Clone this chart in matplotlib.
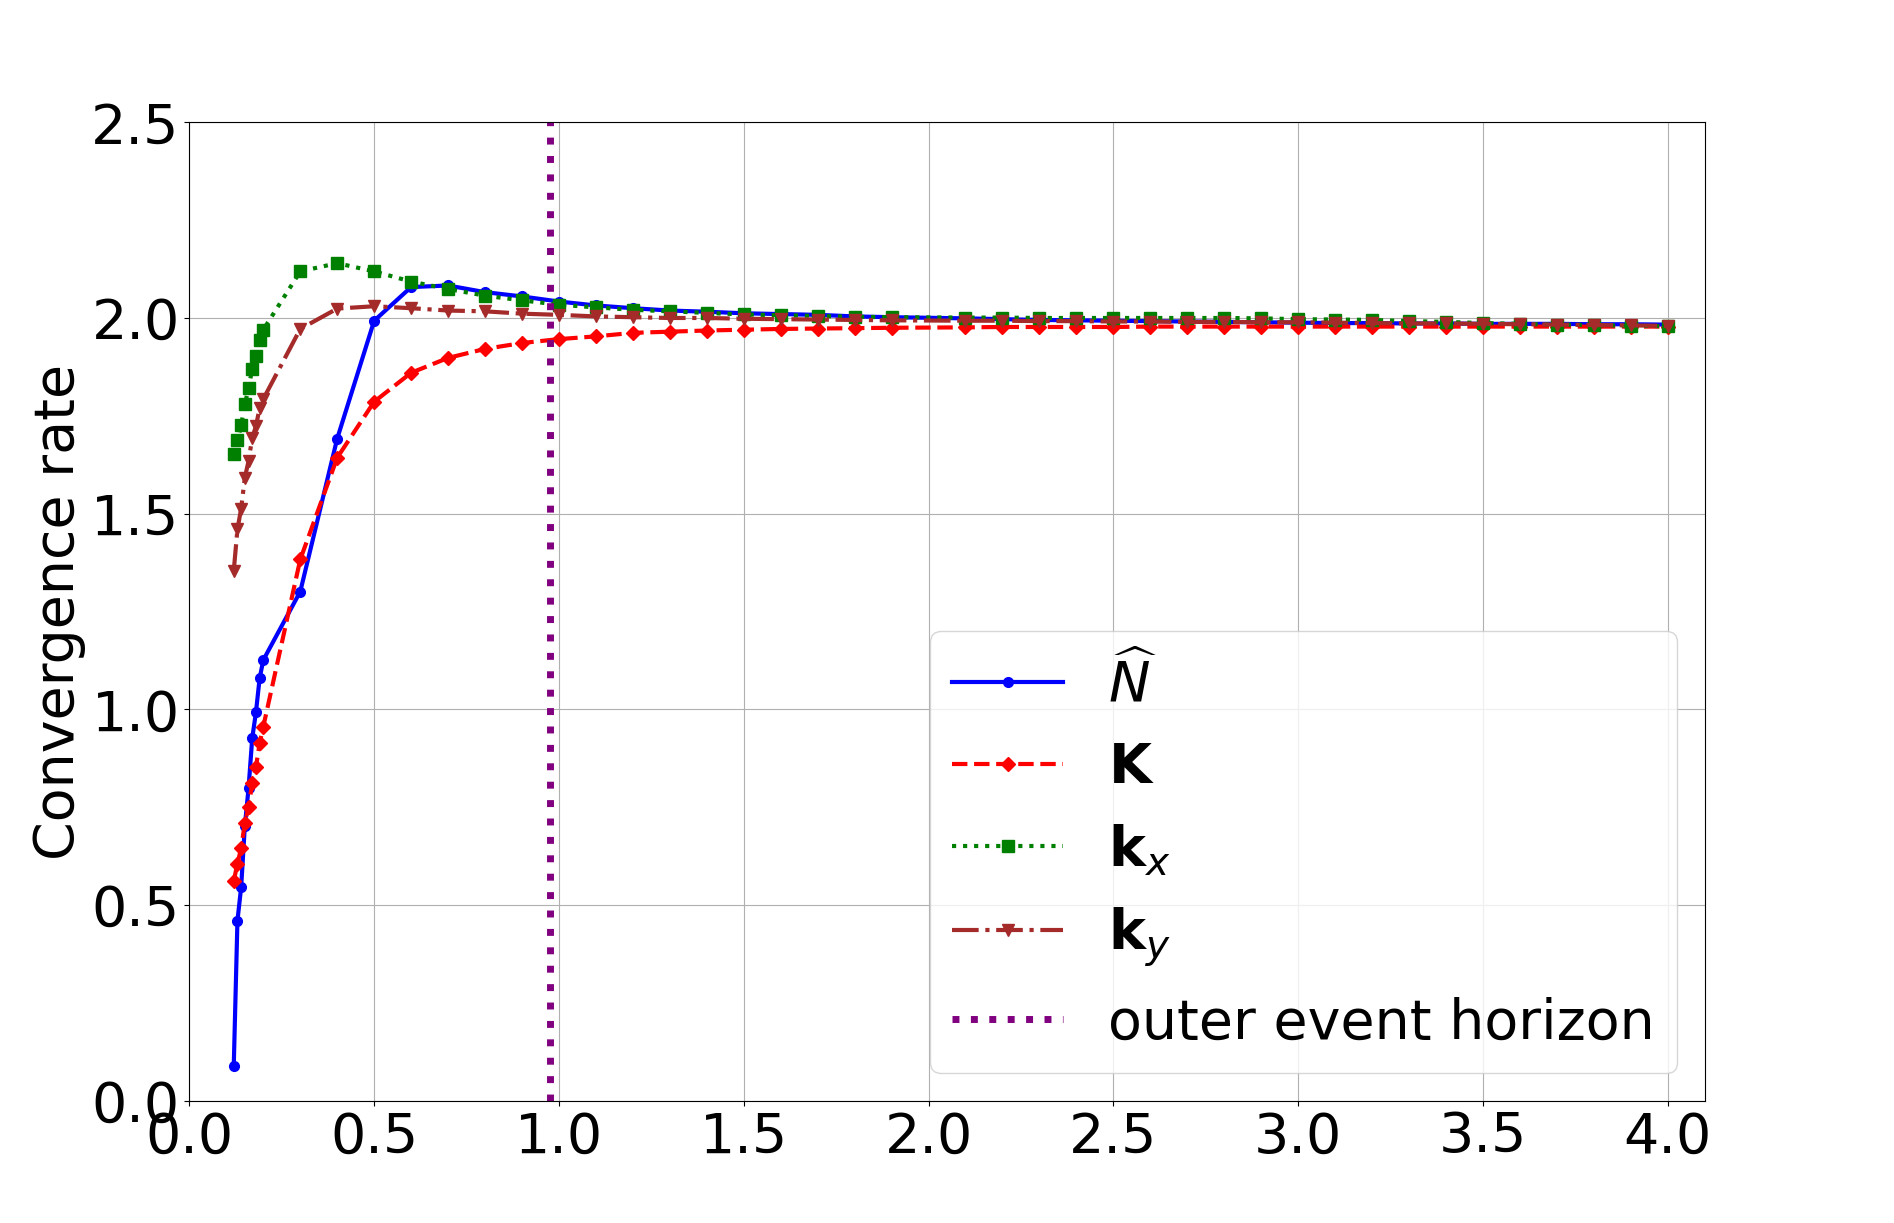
import matplotlib
matplotlib.use('Agg')
import matplotlib.pyplot as plt

# ─── Data: convergence rate vs. radius ───
x = [0.12, 0.13, 0.14, 0.15, 0.16, 0.17, 0.18, 0.19, 0.20,
     0.3, 0.4, 0.5, 0.6, 0.7, 0.8, 0.9, 1.0, 1.1, 1.2, 1.3, 1.4, 1.5, 1.6, 1.7, 1.8, 1.9,
     2.1, 2.2, 2.3, 2.4, 2.5, 2.6, 2.7, 2.8, 2.9, 3.0, 3.1, 3.2, 3.3, 3.4, 3.5, 3.6, 3.7, 3.8, 3.9, 4.0]

N_hat = [0.088, 0.460, 0.545, 0.702, 0.798, 0.926, 0.992, 1.079, 1.126,
         1.301, 1.692, 1.993, 2.079, 2.083, 2.066, 2.055, 2.042, 2.032, 2.025, 2.019, 2.016, 2.012, 2.010, 2.008, 2.004, 2.002,
         1.999, 1.997, 1.995, 1.994, 1.993, 1.992, 1.991, 1.990, 1.989, 1.988, 1.987, 1.987, 1.986, 1.986, 1.985, 1.985, 1.985, 1.984, 1.984, 1.983]

K = [0.561, 0.606, 0.645, 0.709, 0.750, 0.811, 0.852, 0.913, 0.956,
     1.383, 1.643, 1.786, 1.860, 1.898, 1.921, 1.936, 1.946, 1.953, 1.962, 1.965, 1.968, 1.970, 1.972, 1.973, 1.974, 1.975,
     1.976, 1.977, 1.977, 1.977, 1.977, 1.978, 1.978, 1.978, 1.978, 1.978, 1.978, 1.978, 1.978, 1.978, 1.978, 1.978, 1.978, 1.978, 1.978, 1.978]

kx = [1.653, 1.687, 1.726, 1.779, 1.820, 1.870, 1.902, 1.945, 1.970,
      2.119, 2.140, 2.119, 2.093, 2.074, 2.057, 2.045, 2.034, 2.027, 2.021, 2.017, 2.013, 2.009, 2.007, 2.005, 2.003, 2.002,
      2.001, 2.001, 2.000, 2.000, 2.000, 2.000, 2.000, 2.000, 1.999, 1.997, 1.996, 1.995, 1.992, 1.990, 1.987, 1.985, 1.983, 1.982, 1.980, 1.979]

ky = [1.354, 1.460, 1.513, 1.592, 1.634, 1.694, 1.723, 1.770, 1.793,
      1.972, 2.024, 2.030, 2.025, 2.019, 2.017, 2.011, 2.008, 2.004, 2.002, 2.000, 2.000, 1.998, 1.997, 1.996, 1.995, 1.994,
      1.993, 1.993, 1.992, 1.992, 1.991, 1.991, 1.990, 1.990, 1.989, 1.989, 1.988, 1.987, 1.986, 1.986, 1.985, 1.984, 1.983, 1.982, 1.981, 1.980]

horizon = 0.977

# ─── Plot ───
fig = plt.figure(figsize=(18.94, 12.23), dpi=100)
ax = fig.add_subplot(111)
fig.subplots_adjust(left=0.1, right=0.9, bottom=0.1, top=0.9)

ax.plot(x, N_hat, '-o', color='blue', lw=3, ms=7, label=r'$\widehat{N}$')
ax.plot(x, K, '--D', color='red', lw=3, ms=7, label=r'$\mathbf{K}$')
ax.plot(x, kx, ':s', color='green', lw=3, ms=8, label=r'$\mathbf{k}_x$')
ax.plot(x, ky, '-.v', color='brown', lw=3, ms=8, label=r'$\mathbf{k}_y$')
ax.axvline(horizon, color='purple', ls=':', lw=5, label='outer event horizon')

ax.set_xlim(0, 4.1)
ax.set_ylim(0, 2.5)
ax.grid(True)
ax.tick_params(labelsize=40)
ax.set_ylabel('Convergence rate', fontsize=40)
ax.legend(loc='lower right', fontsize=40)

plt.savefig('out.png', dpi=100)
plt.close()
